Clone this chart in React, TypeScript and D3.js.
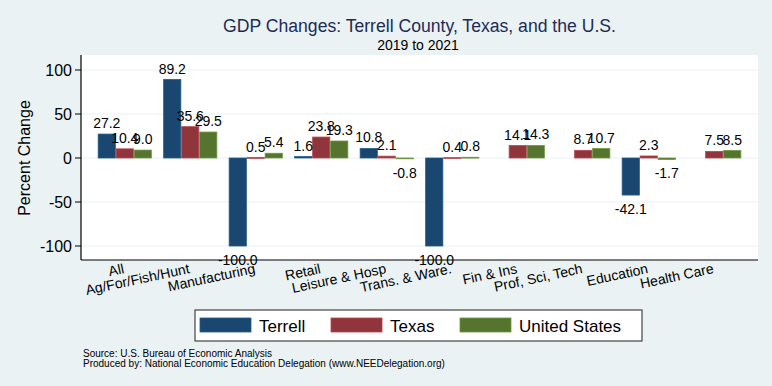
import React from "react";
import * as d3 from "d3";

const categories = [
  "All",
  "Ag/For/Fish/Hunt",
  "Manufacturing",
  "Retail",
  "Leisure & Hosp",
  "Trans. & Ware.",
  "Fin & Ins",
  "Prof, Sci, Tech",
  "Education",
  "Health Care",
];
const seriesNames = ["Terrell", "Texas", "United States"];
const terrell: (number | null)[] = [27.2, 89.2, -100.0, 1.6, 10.8, -100.0, null, null, -42.1, null];
const texas: (number | null)[] = [10.4, 35.6, 0.5, 23.8, 2.1, 0.4, 14.1, 8.7, 2.3, 7.5];
const unitedStates: (number | null)[] = [9.0, 29.5, 5.4, 19.3, -0.8, 0.8, 14.3, 10.7, -1.7, 8.5];
const yTicks = [-100, -50, 0, 50, 100];
const colors = ["#1a476f", "#90353b", "#55752f"];

const W = 772;
const H = 386;
const FONT = "'Liberation Sans', Arial, Helvetica, sans-serif";

export default function App() {
  const series = [terrell, texas, unitedStates];
  const left = 81;
  const right = 758;
  const top = 55;
  const bottom = 260;

  const x = d3
    .scaleBand<string>()
    .domain(categories)
    .range([left, right])
    .paddingInner(0.1756)
    .paddingOuter(0.2558);
  const xi = d3
    .scaleBand<string>()
    .domain(seriesNames)
    .range([0, x.bandwidth()])
    .padding(0);
  const y = d3.scaleLinear().domain([-100, 100]).range([246, 70]);
  const fmt = (v: number) => d3.format(".1f")(v).replace("\u2212", "-");

  return (
    <svg
      width={W}
      height={H}
      style={{ position: "absolute", left: 0, top: 0, display: "block" }}
      fontFamily={FONT}
    >
      <rect x={0} y={0} width={W} height={H} fill="#eaf2f3" />
      <rect x={left} y={top} width={right - left} height={bottom - top} fill="#ffffff" />
      {/* gridlines */}
      {yTicks.map((t) => (
        <line
          key={"g" + t}
          x1={left}
          x2={right}
          y1={y(t)}
          y2={y(t)}
          stroke="#eaf2f3"
          strokeWidth={1.2}
        />
      ))}
      {/* bars */}
      {categories.map((c, i) => (
        <g key={c} transform={`translate(${x(c)},0)`}>
          {series.map((s, j) => {
            const v = s[i];
            if (v === null) return null;
            const y0 = y(0);
            const y1 = y(v);
            const col = d3.color(colors[j])!;
            return (
              <rect
                key={j}
                x={xi(seriesNames[j])! + 0.4}
                y={Math.min(y0, y1)}
                width={xi.bandwidth() - 0.8}
                height={Math.max(Math.abs(y1 - y0), 0.8)}
                fill={colors[j]}
                stroke={col.brighter(0.7).toString()}
                strokeWidth={0.8}
              />
            );
          })}
        </g>
      ))}
      {/* value labels */}
      {categories.map((c, i) =>
        series.map((s, j) => {
          const v = s[i];
          if (v === null) return null;
          const cx = x(c)! + xi(seriesNames[j])! + xi.bandwidth() / 2;
          const yy = v >= 0 ? y(v) - 6 : y(v) + 19;
          return (
            <text
              key={c + j}
              x={cx}
              y={yy}
              textAnchor="middle"
              fontSize={14}
              fill="#000"
            >
              {fmt(v)}
            </text>
          );
        })
      )}
      {/* axes */}
      <line x1={left} x2={left} y1={top} y2={bottom} stroke="#000" strokeWidth={1.2} />
      <line x1={left} x2={right} y1={bottom} y2={bottom} stroke="#000" strokeWidth={1.2} />
      {yTicks.map((t) => (
        <g key={"t" + t}>
          <line x1={75} x2={left} y1={y(t)} y2={y(t)} stroke="#000" strokeWidth={1} />
          <text
            x={72}
            y={y(t) + 5.5}
            textAnchor="end"
            fontSize={16}
            fill="#000"
          >
            {String(t)}
          </text>
        </g>
      ))}
      <text
        transform={`translate(30,158) rotate(-90)`}
        textAnchor="middle"
        fontSize={16}
        fill="#000"
      >
        Percent Change
      </text>
      {/* x labels */}
      {categories.map((c) => (
        <text
          key={"xl" + c}
          transform={`translate(${x(c)! + x.bandwidth() / 2},273) rotate(-12)`}
          textAnchor="end"
          fontSize={14}
          fill="#000"
        >
          {c}
        </text>
      ))}
      {/* title */}
      <text x={419.5} y={32} textAnchor="middle" fontSize={17.6} fill="#1c2c55">
        GDP Changes: Terrell County, Texas, and the U.S.
      </text>
      <text x={418} y={50} textAnchor="middle" fontSize={14} fill="#000">
        2019 to 2021
      </text>
      {/* legend */}
      <rect x={195} y={310} width={447} height={31} fill="#fff" stroke="#444" strokeWidth={1.2} />
      {seriesNames.map((n, j) => {
        const sx = [200, 331, 460][j];
        return (
          <g key={n}>
            <rect x={sx} y={318} width={51} height={14} fill={colors[j]} stroke={d3.color(colors[j])!.brighter(0.7).toString()} strokeWidth={0.8} />
            <text x={sx + 59} y={332} fontSize={17} fill="#000">
              {n}
            </text>
          </g>
        );
      })}
      {/* footer */}
      <text x={83} y={357} fontSize={10} fill="#000">
        Source: U.S. Bureau of Economic Analysis
      </text>
      <text x={83} y={367} fontSize={10} fill="#000">
        Produced by: National Economic Education Delegation (www.NEEDelegation.org)
      </text>
    </svg>
  );
}
